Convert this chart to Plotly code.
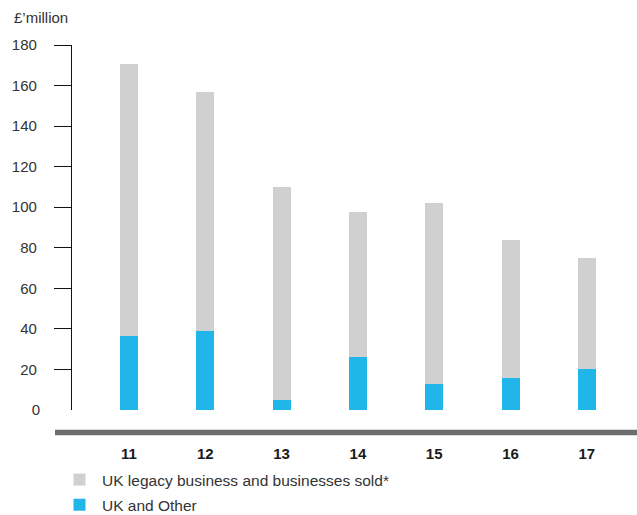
import plotly.graph_objects as go

# Financial years shown along the x axis
years = ["11", "12", "13", "14", "15", "16", "17"]

# £ million per year, split into the two business groupings
uk_and_other = [36.5, 39, 5, 26, 13, 16, 20]
bar_totals = [170.5, 157, 110, 97.5, 102, 84, 75]
uk_legacy = [t - b for t, b in zip(bar_totals, uk_and_other)]

y_ticks = [20, 40, 60, 80, 100, 120, 140, 160, 180]

FONT = "Liberation Sans"
BLUE = "#21b6ea"
GREY = "#d0d0d0"

W, H = 637, 515
M_L, M_R, M_T, M_B = 72, 0, 45, 105
plot_w = W - M_L - M_R
plot_h = H - M_T - M_B

# category positions: first bar centre 57px right of the axis, 76.3px pitch
pitch = 76.3
x_lo = -(129 - M_L) / pitch
x_hi = x_lo + plot_w / pitch

fig = go.Figure()
fig.add_trace(go.Bar(
    x=years, y=uk_and_other, name="UK and Other",
    legendgroup="other", legendrank=2,
    marker=dict(color=BLUE, line=dict(width=0)), width=0.236,
))
fig.add_trace(go.Bar(
    x=years, y=uk_legacy, name="UK legacy business and businesses sold*",
    legendgroup="legacy", legendrank=1,
    marker=dict(color=GREY, line=dict(width=0)), width=0.236,
))
# invisible trace carrying the "0" label on an overlay axis without a tick
fig.add_trace(go.Scatter(x=[years[0]], y=[0], yaxis="y2", mode="markers",
                         marker=dict(opacity=0), showlegend=False, hoverinfo="skip"))

fig.update_layout(
    width=W, height=H,
    margin=dict(l=M_L, r=M_R, t=M_T, b=M_B, pad=0, autoexpand=False),
    paper_bgcolor="white", plot_bgcolor="white",
    barmode="stack",
    font=dict(family=FONT, size=15, color="#333333"),
    xaxis=dict(
        type="category", range=[x_lo, x_hi],
        showgrid=False, zeroline=False, showline=False, ticks="",
        tickfont=dict(family=FONT, size=15, color="#1a1a1a", weight="bold"),
        ticklabelstandoff=33,
    ),
    yaxis=dict(
        range=[0, 180], tickvals=y_ticks,
        showgrid=False, zeroline=False,
        showline=True, linecolor="#111111", linewidth=1.3,
        ticks="outside", ticklen=17, tickwidth=1.3, tickcolor="#111111",
        ticklabelstandoff=14,
        tickfont=dict(family=FONT, size=15, color="#333333"),
    ),
    yaxis2=dict(
        range=[0, 180], overlaying="y", side="left", tickvals=[0],
        showgrid=False, zeroline=False, showline=False, ticks="",
        ticklabelstandoff=31,
        tickfont=dict(family=FONT, size=15, color="#333333"),
    ),
    legend=dict(
        traceorder="grouped",
        orientation="v",
        xref="container", yref="container",
        x=57 / W, xanchor="left",
        y=1 - 463 / H, yanchor="top",
        font=dict(family=FONT, size=15.5, color="#333333"),
        itemwidth=35,
        itemsizing="constant", tracegroupgap=2,
        bgcolor="rgba(0,0,0,0)",
    ),
    annotations=[dict(
        text="£’million", xref="paper", yref="paper",
        x=(12 - M_L) / plot_w, xanchor="left",
        y=(M_T + plot_h - 17) / plot_h, yanchor="middle",
        showarrow=False, font=dict(family=FONT, size=15, color="#333333"),
    )],
    shapes=[dict(
        type="line", xref="paper", yref="paper",
        x0=(55 - M_L) / plot_w, x1=1.0,
        y0=(M_T + plot_h - 432.5) / plot_h, y1=(M_T + plot_h - 432.5) / plot_h,
        line=dict(color="#6e6e6e", width=5.5),
    )],
)

fig.write_html("out.html")
